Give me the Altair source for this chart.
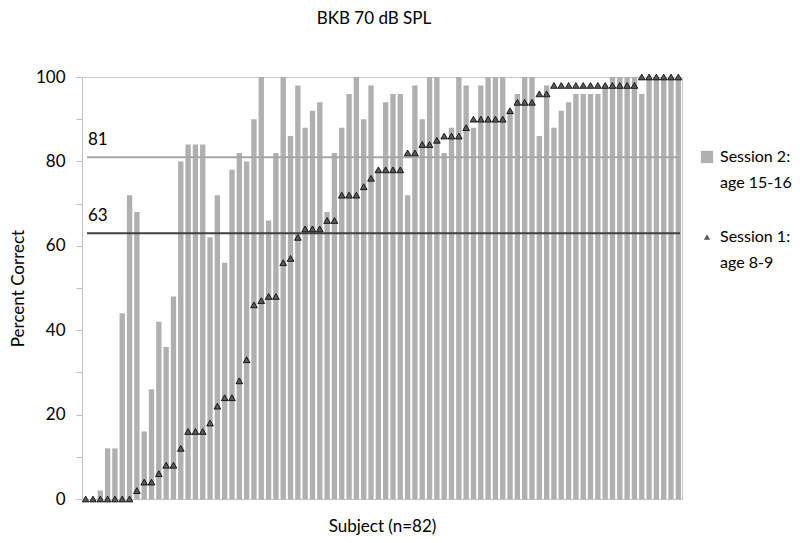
import altair as alt
import pandas as pd

subjects = list(range(1, 83))
session2 = [0, 0, 2, 12, 12, 44, 72, 68, 16, 26, 42, 36, 48, 80, 84, 84, 84, 62, 72, 56,
            78, 82, 80, 90, 100, 66, 82, 100, 86, 98, 88, 92, 94, 68, 82, 88, 96, 100, 90, 98,
            78, 94, 96, 96, 72, 98, 90, 100, 100, 82, 88, 100, 98, 88, 98, 100, 100, 100, 92, 96,
            100, 100, 86, 98, 88, 92, 94, 96, 96, 96, 96, 98, 100, 100, 100, 100, 96, 100, 100, 100,
            100, 100]
session1 = [0, 0, 0, 0, 0, 0, 0, 2, 4, 4, 6, 8, 8, 12, 16, 16, 16, 18, 22, 24,
            24, 28, 33, 46, 47, 48, 48, 56, 57, 62, 64, 64, 64, 66, 66, 72, 72, 72, 74, 76,
            78, 78, 78, 78, 82, 82, 84, 84, 85, 86, 86, 86, 88, 90, 90, 90, 90, 90, 92, 94,
            94, 94, 96, 96, 98, 98, 98, 98, 98, 98, 98, 98, 98, 98, 98, 98, 100, 100, 100, 100,
            100, 100]
ref_values = [81, 63]
ref_labels = ["81", "63"]
ref_colors = ["#a6a6a6", "#404040"]
label2 = "Session 2:|age 15-16"
label1 = "Session 1:|age 8-9"

FONT = "Lato"
df = pd.DataFrame({"subject": subjects, "s2": session2, "s1": session1,
                   "leg2": label2, "leg1": label1})
refs = pd.DataFrame({"v": ref_values, "lab": ref_labels, "col": ref_colors})

xenc = alt.X("subject:O",
             scale=alt.Scale(paddingInner=0.27, paddingOuter=0.135),
             axis=alt.Axis(title="Subject (n=82)", labels=False, ticks=False,
                           domainColor="#bfbfbf", titleFontSize=17, titleFont=FONT,
                           titleFontWeight="normal", titleColor="#000", titlePadding=19))
yscale = alt.Scale(domain=[0, 100], nice=False)

bars = alt.Chart(df).mark_bar().encode(
    x=xenc,
    y=alt.Y("s2:Q", scale=yscale,
            axis=alt.Axis(title="Percent Correct", values=list(range(0, 101, 10)),
                          labelExpr="datum.value % 20 == 0 ? datum.label : ''",
                          grid=False, domainColor="#bfbfbf", tickColor="#bfbfbf",
                          tickSize=6, labelPadding=11, labelFontSize=17, labelFont=FONT,
                          labelColor="#000", titleFontSize=17, titleFont=FONT,
                          titleFontWeight="normal", titleColor="#000", titlePadding=8)),
    color=alt.Color("leg2:N", scale=alt.Scale(range=["#b0b0b0"]),
                    legend=alt.Legend(orient="none", legendX=617, legendY=72, title=None,
                                      labelExpr="split(datum.label, '|')",
                                      labelFontSize=16, labelFont=FONT, labelColor="#000",
                                      symbolType="square", symbolSize=150, symbolStrokeWidth=0,
                                      labelLimit=0, labelOffset=5)),
)

rules = alt.Chart(refs).mark_rule(strokeWidth=2).encode(
    y=alt.Y("v:Q", scale=yscale),
    x=alt.value(5), x2=alt.value(598),
    color=alt.Color("col:N", scale=None, legend=None),
)
rule_text = alt.Chart(refs).mark_text(align="left", baseline="middle", dy=-17,
                                      fontSize=17, font=FONT, color="#000").encode(
    y=alt.Y("v:Q", scale=yscale),
    x=alt.value(6),
    text="lab:N",
)

tri = alt.Chart(df).mark_point(filled=True, size=45, fill="#595959", stroke="#000",
                               strokeWidth=0.8, opacity=1).encode(
    x=xenc,
    y=alt.Y("s1:Q", scale=yscale),
    shape=alt.Shape("leg1:N", scale=alt.Scale(range=["triangle-up"]),
                    legend=alt.Legend(orient="none", legendX=617, legendY=152, title=None,
                                      labelExpr="split(datum.label, '|')",
                                      labelFontSize=16, labelFont=FONT, labelColor="#000",
                                      symbolFillColor="#595959", symbolStrokeColor="#000",
                                      symbolStrokeWidth=0.8, symbolSize=40,
                                      labelLimit=0, labelOffset=5)),
)

chart = alt.layer(bars, rules, rule_text, tri).resolve_legend(
    color="independent", shape="independent"
).properties(
    width=600, height=422,
    title=alt.TitleParams("BKB 70 dB SPL", fontSize=17, font=FONT, fontWeight="normal",
                          color="#000", offset=40, dx=-8),
    autosize=alt.AutoSizeParams(type="none"),
    padding={"left": 74, "top": 69, "right": 110, "bottom": 36},
).configure(style={"guide-label": {"lineHeight": 26}}).configure_view(stroke="#c8c8c8")

chart.save("out.html", embed_options={"renderer": "svg", "actions": False})
